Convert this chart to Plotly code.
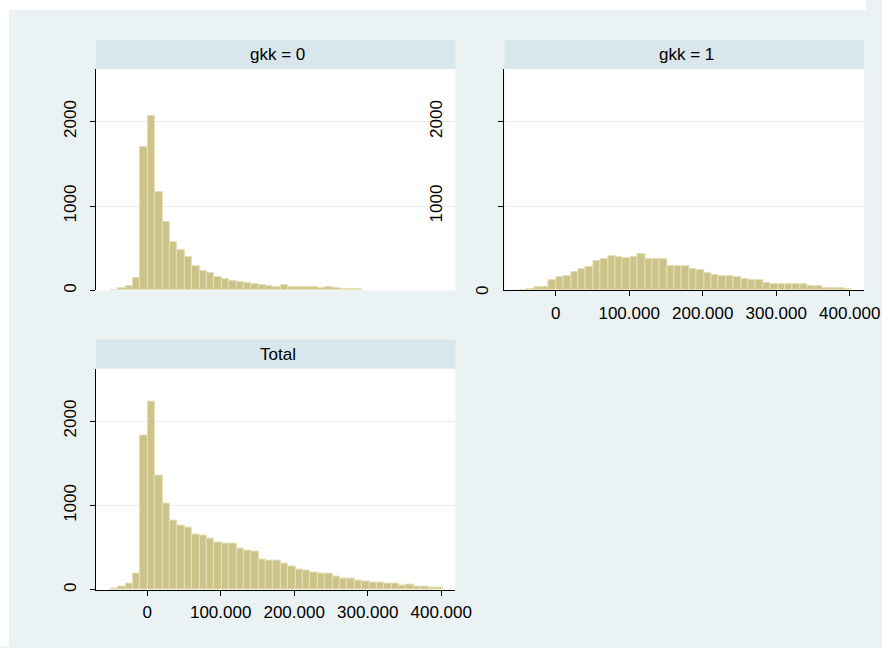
import plotly.graph_objects as go

# Drawing surface in pixels that the page actually hands to the figure
W, H = 867, 645

# Histogram bins (frequency counts), shared by all panels
bin_start = -49400
bin_width = 10050

gkk0_counts = [10, 28, 48, 147, 1695, 2070, 1170, 805, 568, 480,
               392, 287, 224, 211, 156, 138, 112, 103, 87, 72,
               62, 52, 36, 60, 35, 44, 36, 34, 22, 34,
               22, 19, 16, 14]
gkk1_counts = [0, 16, 36, 40, 126, 154, 174, 213, 249, 281,
               348, 372, 411, 395, 387, 395, 427, 375, 375, 375,
               292, 289, 289, 253, 237, 206, 186, 166, 166, 158,
               130, 119, 119, 91, 79, 71, 71, 71, 71, 51,
               51, 28, 32, 28, 20]
total_counts = [20, 44, 79, 190, 1833, 2230, 1349, 1024, 821, 766,
                734, 655, 639, 611, 556, 544, 548, 484, 464, 460,
                361, 345, 345, 310, 274, 242, 226, 202, 190, 190,
                155, 139, 135, 111, 95, 83, 83, 79, 75, 52,
                63, 36, 36, 28, 24]

panel_titles = ["gkk = 0", "gkk = 1", "Total"]

x_tickvals = [0, 100000, 200000, 300000, 400000]
x_ticktext = ["0", "100.000", "200.000", "300.000", "400.000"]
y_tickvals = [0, 1000, 2000]
y_ticktext = ["0", "1000", "2000"]

x_range = [-69700, 419400]
y_range = [0, 2622]

FONT = "Liberation Sans, Arial, Helvetica, sans-serif"
BG = "#EAF2F3"
STRIP = "#D9E6EB"
BAR_FILL = "#CBC387"
BAR_EDGE = "#E4DFB6"
GRID = "#E6EEF0"

# Panel boxes in pixels: (left, right, top, bottom, strip_top)
panels = [
    (96, 456, 69, 290, 40),
    (505, 865, 69, 290, 40),
    (96, 456, 368, 589, 339),
]


def fx(p):
    return p / W


def fy(p):
    return 1 - p / H


def centers(counts):
    return [bin_start + bin_width * (i + 0.5) for i in range(len(counts))]


fig = go.Figure()
series = [gkk0_counts, gkk1_counts, total_counts]
for k, counts in enumerate(series):
    suffix = "" if k == 0 else str(k + 1)
    fig.add_trace(go.Bar(
        x=centers(counts), y=counts, width=bin_width,
        marker=dict(color=BAR_FILL, line=dict(color=BAR_EDGE, width=1)),
        xaxis="x" + suffix, yaxis="y" + suffix,
        showlegend=False, hoverinfo="x+y", cliponaxis=False,
    ))

layout = dict(
    width=882, height=648,
    margin=dict(l=0, r=0, t=0, b=0),
    paper_bgcolor=BG, plot_bgcolor="white",
    bargap=0, showlegend=False,
    font=dict(family=FONT, size=17, color="black"),
)

shapes = [
    # white frame strips along the top and left of the canvas
    dict(type="rect", xref="paper", yref="paper", x0=0, x1=1, y0=fy(10), y1=1,
         fillcolor="white", line=dict(width=0), layer="below"),
    dict(type="rect", xref="paper", yref="paper", x0=0, x1=fx(9), y0=0, y1=1,
         fillcolor="white", line=dict(width=0), layer="below"),
]
annotations = []

for k, (l, r, t, b, st) in enumerate(panels):
    suffix = "" if k == 0 else str(k + 1)
    show_x = k > 0
    xa = dict(
        domain=[fx(l), min(fx(r), 1.0)], range=x_range, anchor="y" + suffix,
        tickvals=x_tickvals, ticktext=x_ticktext,
        showgrid=False, zeroline=False,
        showline=show_x, linecolor="black", linewidth=1,
        ticks="outside" if show_x else "", ticklen=5, tickcolor="black",
        showticklabels=show_x, ticklabelstandoff=2,
        tickfont=dict(family=FONT, size=17, color="black"),
        fixedrange=True,
    )
    ya = dict(
        domain=[fy(b), fy(t)], range=y_range, anchor="x" + suffix,
        tickvals=y_tickvals if k != 1 else [1000, 2000],
        ticktext=y_ticktext if k != 1 else ["1000", "2000"],
        tickangle=-90,
        showgrid=True, gridcolor=GRID, gridwidth=1, zeroline=False,
        showline=True, linecolor="black", linewidth=1,
        ticks="outside", ticklen=5, tickcolor="black",
        ticklabelstandoff=7 if k != 1 else 50,
        tickfont=dict(family=FONT, size=17, color="black"),
        fixedrange=True,
    )
    layout["xaxis" + suffix] = xa
    layout["yaxis" + suffix] = ya

    # panel title strip
    shapes.append(dict(type="rect", xref="paper", yref="paper",
                       x0=fx(l), x1=min(fx(r), 1.0), y0=fy(t), y1=fy(st),
                       fillcolor=STRIP, line=dict(width=0), layer="below"))
    annotations.append(dict(text=panel_titles[k], xref="paper", yref="paper",
                            x=fx((l + r) / 2 + 2), y=fy((st + t) / 2),
                            xanchor="center", yanchor="middle", showarrow=False,
                            font=dict(family=FONT, size=17, color="black")))

# zero label of the right-hand panel sits closer to its axis
annotations.append(dict(text="0", xref="paper", yref="y2", x=fx(483), y=0,
                        textangle=-90, xanchor="center", yanchor="middle",
                        showarrow=False,
                        font=dict(family=FONT, size=17, color="black")))

layout["shapes"] = shapes
layout["annotations"] = annotations
fig.update_layout(**layout)

fig.write_html("out.html")
